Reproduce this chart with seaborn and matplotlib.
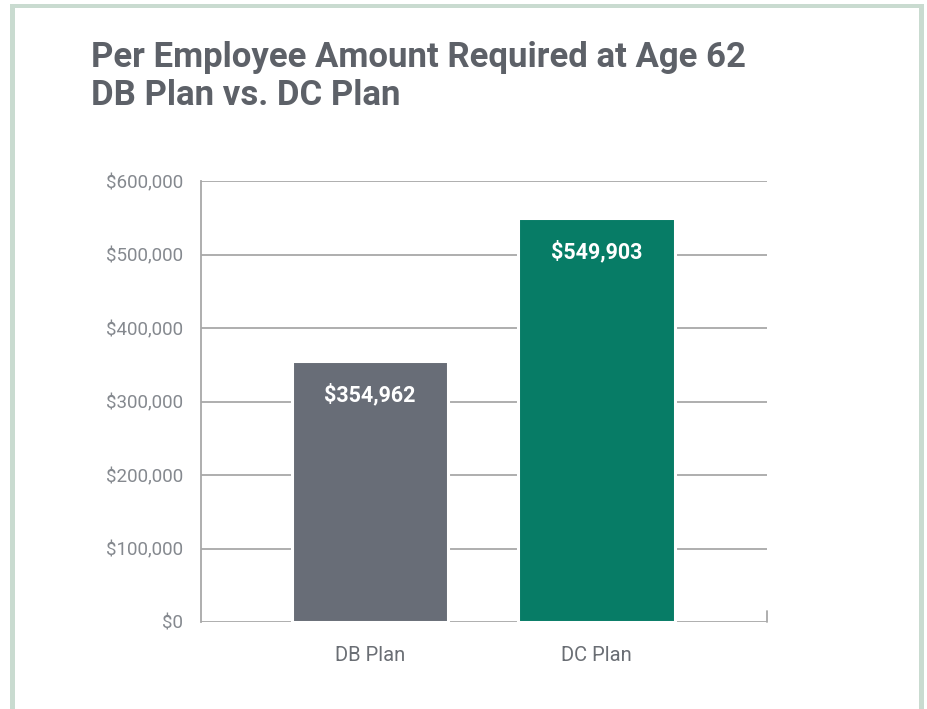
import matplotlib
matplotlib.use("Agg")
import matplotlib.pyplot as plt
import seaborn as sns
import pandas as pd
from matplotlib.patches import Rectangle
from matplotlib.ticker import FuncFormatter

categories = ["DB Plan", "DC Plan"]
values = [354962, 549903]
value_labels = ["$354,962", "$549,903"]
bar_colors = ["#686d77", "#077c66"]
y_ticks = [0, 100000, 200000, 300000, 400000, 500000, 600000]
title_text = "Per Employee Amount Required at Age 62\nDB Plan vs. DC Plan"

sns.set_theme(style="white")
plt.rcParams['font.family'] = ['Roboto', 'DejaVu Sans']

W, H = 927, 709
fig = plt.figure(figsize=(W / 100, H / 100), dpi=100)
fig.patch.set_facecolor("white")

ax = fig.add_axes([201 / W, (H - 622) / H, 566 / W, 441 / H])

df = pd.DataFrame({"plan": categories, "amount": values})
sns.barplot(data=df, x="plan", y="amount", hue="plan", palette=bar_colors,
            saturation=1, width=0.69, edgecolor="white", linewidth=2.2,
            legend=False, ax=ax, zorder=3)

ax.set_xlim(-0.746, 1.753)
ax.set_ylim(0, 600000)
ax.set_yticks(y_ticks)
ax.yaxis.set_major_formatter(FuncFormatter(lambda v, p: f"${int(v):,}"))
ax.yaxis.grid(True, color="#a8a8a8", linewidth=1.3, zorder=0)
ax.xaxis.grid(False)
ax.set_axisbelow(True)
ax.set_xlabel("")
ax.set_ylabel("")

for side in ["top", "right", "bottom"]:
    ax.spines[side].set_visible(False)
ax.spines["left"].set_color("#a8a8a8")
ax.spines["left"].set_linewidth(1.3)
ax.axvline(ax.get_xlim()[1], ymin=0, ymax=0.025, color="#a8a8a8", linewidth=1.3, clip_on=False)

ax.tick_params(axis="y", length=0, pad=13, labelsize=13.5, labelcolor="#85898f")
ax.tick_params(axis="x", length=0, pad=17, labelsize=14.5, labelcolor="#6a6e74")

for i, (v, lab) in enumerate(zip(values, value_labels)):
    ax.annotate(lab, xy=(i, v), xytext=(0, -24.5), textcoords="offset points",
                ha="center", va="center", color="white", fontsize=15.5,
                fontweight="bold", zorder=5)

fig.text(91 / W, 1 - 41 / H, title_text, ha="left", va="top", fontsize=25,
         fontweight="bold", color="#5d6168", linespacing=1.18)

frame_color = "#c9dbd0"
fig.add_artist(Rectangle((10 / W, 0), 5 / W, 1 - 4 / H, transform=fig.transFigure,
                         facecolor=frame_color, edgecolor="none"))
fig.add_artist(Rectangle((919 / W, 0), 5 / W, 1 - 4 / H, transform=fig.transFigure,
                         facecolor=frame_color, edgecolor="none"))
fig.add_artist(Rectangle((10 / W, 1 - 8 / H), 914 / W, 4 / H, transform=fig.transFigure,
                         facecolor=frame_color, edgecolor="none"))

fig.savefig("out.png", dpi=100, facecolor="white")
